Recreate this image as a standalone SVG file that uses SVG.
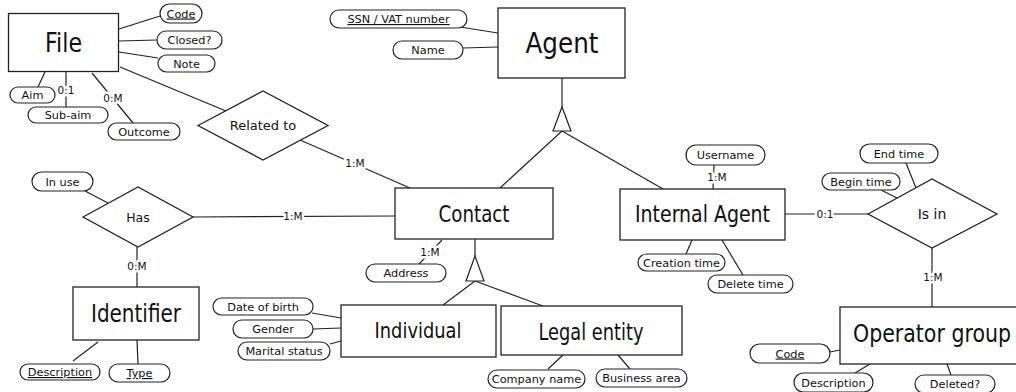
<svg xmlns="http://www.w3.org/2000/svg" width="1016" height="392" viewBox="0 0 1016 392">
  <style>
    text { font-family: "DejaVu Sans", "Liberation Sans", sans-serif; fill: #111; text-anchor: middle; }
    .entity rect { fill: #fff; stroke: #222; stroke-width: 1.3; }
    .entity text { font-size: 23px; }
    .rel polygon { fill: #fff; stroke: #222; stroke-width: 1.3; }
    .rel text { font-size: 13px; }
    .attr rect { fill: #fff; stroke: #222; stroke-width: 1.2; }
    .attr text { font-size: 11.3px; }
    .key { text-decoration: underline; }
    #connectors line { stroke: #222; stroke-width: 1.2; }
    #connectors polygon { fill: #fff; stroke: #222; stroke-width: 1.2; }
    .card { font-size: 10.5px; stroke: #fff; stroke-width: 5; paint-order: stroke; stroke-linejoin: round; }
  </style>
  <rect width="1016" height="392" fill="#fff"/>

  <!-- connectors -->
  <g id="connectors">
    <line x1="119" y1="29" x2="160" y2="16"/>
    <line x1="119" y1="41" x2="157" y2="40"/>
    <line x1="119" y1="52" x2="158" y2="58"/>
    <line x1="120" y1="67" x2="226" y2="111"/>
    <line x1="45" y1="72" x2="38" y2="87"/>
    <line x1="66" y1="72" x2="66" y2="107"/>
    <line x1="92" y1="73" x2="133" y2="123"/>
    <line x1="300" y1="140" x2="410" y2="188"/>
    <line x1="460" y1="27" x2="498" y2="33"/>
    <line x1="463" y1="48" x2="498" y2="47"/>
    <line x1="562" y1="78" x2="562" y2="107"/>
    <line x1="562" y1="131" x2="500" y2="188"/>
    <line x1="562" y1="131" x2="663" y2="189"/>
    <polygon points="562,107 553,131 571,131"/>
    <line x1="193" y1="217" x2="395" y2="216"/>
    <line x1="85" y1="191" x2="108" y2="203"/>
    <line x1="137" y1="247" x2="137" y2="287"/>
    <line x1="98" y1="342" x2="73" y2="361"/>
    <line x1="137" y1="340" x2="138" y2="364"/>
    <line x1="312" y1="313" x2="341" y2="318"/>
    <line x1="313" y1="329" x2="341" y2="328"/>
    <line x1="330" y1="344" x2="341" y2="341"/>
    <line x1="475" y1="239" x2="475" y2="256"/>
    <line x1="475" y1="281" x2="443" y2="305"/>
    <line x1="475" y1="281" x2="543" y2="306"/>
    <polygon points="475,256 466,281 484,281"/>
    <line x1="442" y1="240" x2="419" y2="264"/>
    <line x1="563" y1="355" x2="548" y2="369"/>
    <line x1="618" y1="355" x2="630" y2="369"/>
    <line x1="714" y1="165" x2="713" y2="189"/>
    <line x1="692" y1="240" x2="686" y2="254"/>
    <line x1="722" y1="240" x2="743" y2="275"/>
    <line x1="785" y1="214" x2="868" y2="214"/>
    <line x1="906" y1="163" x2="916" y2="188"/>
    <line x1="881" y1="190" x2="897" y2="198"/>
    <line x1="932" y1="248" x2="932" y2="307"/>
    <line x1="830" y1="352" x2="840" y2="350"/>
    <line x1="870" y1="364" x2="855" y2="373"/>
    <line x1="947" y1="364" x2="951" y2="375"/>
    <!-- cardinalities -->
    <text class="card" x="66" y="94">0:1</text>
    <text class="card" x="113" y="102">0:M</text>
    <text class="card" x="355" y="167">1:M</text>
    <text class="card" x="293" y="220">1:M</text>
    <text class="card" x="137" y="270">0:M</text>
    <text class="card" x="430" y="256">1:M</text>
    <text class="card" x="717" y="181">1:M</text>
    <text class="card" x="825" y="218">0:1</text>
    <text class="card" x="933" y="281">1:M</text>
  </g>

  <!-- entities -->
  <g id="file" class="entity">
    <rect x="8.5" y="13.5" width="110" height="58"/>
    <text x="63.5" y="52" style="font-size:26px" textLength="37" lengthAdjust="spacingAndGlyphs">File</text>
  </g>
  <g id="agent" class="entity">
    <rect x="498" y="8" width="127" height="70"/>
    <text x="562" y="53" style="font-size:28px" textLength="73" lengthAdjust="spacingAndGlyphs">Agent</text>
  </g>
  <g id="contact" class="entity">
    <rect x="395" y="188" width="158" height="51"/>
    <text x="474" y="222" textLength="71" lengthAdjust="spacingAndGlyphs">Contact</text>
  </g>
  <g id="internal-agent" class="entity">
    <rect x="620" y="189" width="165" height="51"/>
    <text x="702.5" y="222" textLength="135" lengthAdjust="spacingAndGlyphs">Internal Agent</text>
  </g>
  <g id="identifier" class="entity">
    <rect x="73" y="287" width="126" height="53"/>
    <text x="136" y="322" style="font-size:24px" textLength="90" lengthAdjust="spacingAndGlyphs">Identifier</text>
  </g>
  <g id="individual" class="entity">
    <rect x="341" y="305" width="155" height="52"/>
    <text x="418" y="338" style="font-size:22px" textLength="87" lengthAdjust="spacingAndGlyphs">Individual</text>
  </g>
  <g id="legal-entity" class="entity">
    <rect x="501" y="306" width="181" height="49"/>
    <text x="591" y="340" textLength="105" lengthAdjust="spacingAndGlyphs">Legal entity</text>
  </g>
  <g id="operator-group" class="entity">
    <rect x="840" y="307" width="200" height="57"/>
    <text x="932" y="342" style="font-size:25px" textLength="158" lengthAdjust="spacingAndGlyphs">Operator group</text>
  </g>

  <!-- relationships -->
  <g id="related-to" class="rel">
    <polygon points="198,125.5 263,91 328,125.5 263,160"/>
    <text x="263" y="130">Related to</text>
  </g>
  <g id="has" class="rel">
    <polygon points="83,217 138,187 193,217 138,247"/>
    <text x="138" y="222" style="font-size:12.5px">Has</text>
  </g>
  <g id="is-in" class="rel">
    <polygon points="868,214 932,179 997,214 932,248"/>
    <text x="932" y="219" style="font-size:14px">Is in</text>
  </g>

  <!-- attributes -->
  <g id="file-code" class="attr"><rect x="160" y="4" width="42" height="19" rx="9.5"/><text class="key" x="181" y="17.5">Code</text></g>
  <g id="file-closed" class="attr"><rect x="157" y="31" width="65" height="18" rx="9"/><text x="189.5" y="44">Closed?</text></g>
  <g id="file-note" class="attr"><rect x="158" y="55" width="57" height="17" rx="8.5"/><text x="186.5" y="67.5">Note</text></g>
  <g id="file-aim" class="attr"><rect x="10" y="87" width="45" height="16" rx="8"/><text x="32.5" y="99">Aim</text></g>
  <g id="file-subaim" class="attr"><rect x="28" y="107" width="80" height="16" rx="8"/><text x="68" y="119">Sub-aim</text></g>
  <g id="file-outcome" class="attr"><rect x="108" y="123" width="72" height="17" rx="8.5"/><text x="144" y="135.5">Outcome</text></g>
  <g id="agent-ssn" class="attr"><rect x="330" y="10" width="137" height="18" rx="9"/><text class="key" x="398.5" y="23">SSN / VAT number</text></g>
  <g id="agent-name" class="attr"><rect x="393" y="41" width="70" height="18" rx="9"/><text x="428" y="54">Name</text></g>
  <g id="contact-address" class="attr"><rect x="366" y="264" width="80" height="18" rx="9"/><text x="406" y="277">Address</text></g>
  <g id="has-in-use" class="attr"><rect x="32" y="172" width="61" height="19" rx="9.5"/><text x="62.5" y="185.5">In use</text></g>
  <g id="identifier-description" class="attr"><rect x="20" y="364" width="80" height="16" rx="8"/><text class="key" x="60" y="376">Description</text></g>
  <g id="identifier-type" class="attr"><rect x="109" y="364" width="61" height="18" rx="9"/><text class="key" x="139.5" y="377">Type</text></g>
  <g id="individual-dob" class="attr"><rect x="213" y="298" width="100" height="17" rx="8.5"/><text x="263" y="310.5">Date of birth</text></g>
  <g id="individual-gender" class="attr"><rect x="233" y="320" width="80" height="18" rx="9"/><text x="273" y="333">Gender</text></g>
  <g id="individual-marital" class="attr"><rect x="238" y="342" width="92" height="18" rx="9"/><text x="284" y="355">Marital status</text></g>
  <g id="legal-company-name" class="attr"><rect x="488" y="370" width="97" height="18" rx="9"/><text x="536.5" y="383">Company name</text></g>
  <g id="legal-business-area" class="attr"><rect x="596" y="369" width="91" height="18" rx="9"/><text x="641.5" y="382">Business area</text></g>
  <g id="ia-username" class="attr"><rect x="686" y="145" width="79" height="20" rx="10"/><text x="725.5" y="159">Username</text></g>
  <g id="ia-creation" class="attr"><rect x="638" y="254" width="87" height="17" rx="8.5"/><text x="681.5" y="266.5">Creation time</text></g>
  <g id="ia-delete" class="attr"><rect x="708" y="275" width="85" height="18" rx="9"/><text x="750.5" y="288">Delete time</text></g>
  <g id="isin-end" class="attr"><rect x="860" y="144" width="78" height="19" rx="9.5"/><text x="899" y="157.5">End time</text></g>
  <g id="isin-begin" class="attr"><rect x="822" y="173" width="78" height="17" rx="8.5"/><text x="861" y="185.5">Begin time</text></g>
  <g id="og-code" class="attr"><rect x="750" y="344" width="80" height="19" rx="9.5"/><text class="key" x="790" y="357.5">Code</text></g>
  <g id="og-description" class="attr"><rect x="794" y="373" width="79" height="19" rx="9.5"/><text x="833.5" y="386.5">Description</text></g>
  <g id="og-deleted" class="attr"><rect x="915" y="375" width="80" height="18" rx="9"/><text x="955" y="388">Deleted?</text></g>
</svg>
